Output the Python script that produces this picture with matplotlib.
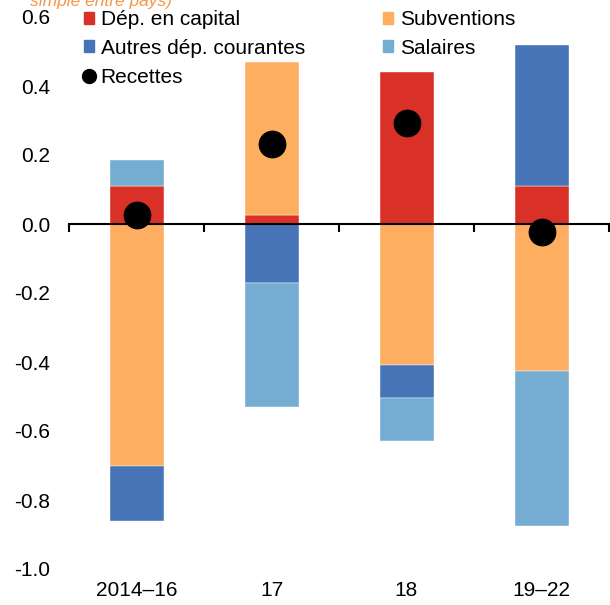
import matplotlib.pyplot as plt
import numpy as np
from matplotlib.patches import Patch
from matplotlib.lines import Line2D

plt.rcParams['font.family'] = ['Liberation Sans', 'DejaVu Sans']

categories = ['2014–16', '17', '18', '19–22']
series_names = ['Dép. en capital', 'Subventions', 'Autres dép. courantes', 'Salaires']
capital = [0.11, 0.025, 0.44, 0.11]
subventions = [-0.70, 0.445, -0.41, -0.425]
autres = [-0.16, -0.17, -0.095, 0.41]
salaires = [0.075, -0.36, -0.125, -0.45]
recettes = [0.026, 0.232, 0.293, -0.023]
colors = ['#D93127', '#FDAE61', '#4674B7', '#75ADD2']
yticks = [-1.0, -0.8, -0.6, -0.4, -0.2, 0.0, 0.2, 0.4, 0.6]

fig = plt.figure(figsize=(6.1, 6.05), dpi=100)
ax = fig.add_axes([69 / 610, 1 - 569 / 605, 540 / 610, 552 / 605])

x = np.arange(len(categories))
pos_base = np.zeros(len(categories))
neg_base = np.zeros(len(categories))
for vals, col in zip([capital, subventions, autres, salaires], colors):
    vals = np.array(vals)
    base = np.where(vals >= 0, pos_base, neg_base)
    ax.bar(x, vals, width=0.4, bottom=base, color=col, edgecolor='white', linewidth=0.3, zorder=2)
    pos_base = pos_base + np.where(vals >= 0, vals, 0)
    neg_base = neg_base + np.where(vals < 0, vals, 0)

ax.plot(x, recettes, 'o', color='black', markersize=19, zorder=4, linestyle='none')

ax.set_xlim(-0.5, 3.5)
ax.set_ylim(-1.0, 0.6)
ax.set_yticks(yticks)
ax.set_yticklabels([f'{v:.1f}' for v in yticks])
ax.tick_params(axis='y', length=0, pad=13.5, labelsize=15)

for s in ['left', 'right', 'top']:
    ax.spines[s].set_visible(False)
ax.spines['bottom'].set_position(('data', 0))
ax.spines['bottom'].set_linewidth(1.5)
ax.spines['bottom'].set_zorder(3)
ax.set_xticks(np.arange(-0.5, 3.6, 1.0))
ax.set_xticklabels([])
ax.tick_params(axis='x', direction='out', length=6, width=1.5)

sec = ax.secondary_xaxis(0)
sec.set_xticks(x)
sec.set_xticklabels(categories)
sec.tick_params(length=0, pad=9, labelsize=15)
sec.spines['bottom'].set_visible(False)

# legend filled column-wise, so order it to read row-wise like the original
patches = [Patch(color=c) for c in colors]
dot = Line2D([], [], marker='o', color='black', linestyle='none', markersize=10)
handles = [patches[0], patches[2], dot, patches[1], patches[3]]
labels = [series_names[0], series_names[2], 'Recettes', series_names[1], series_names[3]]
fig.legend(handles, labels, loc='upper left', bbox_to_anchor=(84 / 610, 1 - 10 / 605),
           ncol=2, frameon=False, fontsize=15, handlelength=0.5, handleheight=0.5,
           handletextpad=0.3, columnspacing=3.75, labelspacing=0.47,
           borderpad=0, borderaxespad=0)

fig.text(30 / 610, 1 - 6 / 605, 'simple entre pays)', color='#F79646', style='italic',
         fontsize=12.5, va='baseline', ha='left')

fig.savefig('out.png', dpi=100)
